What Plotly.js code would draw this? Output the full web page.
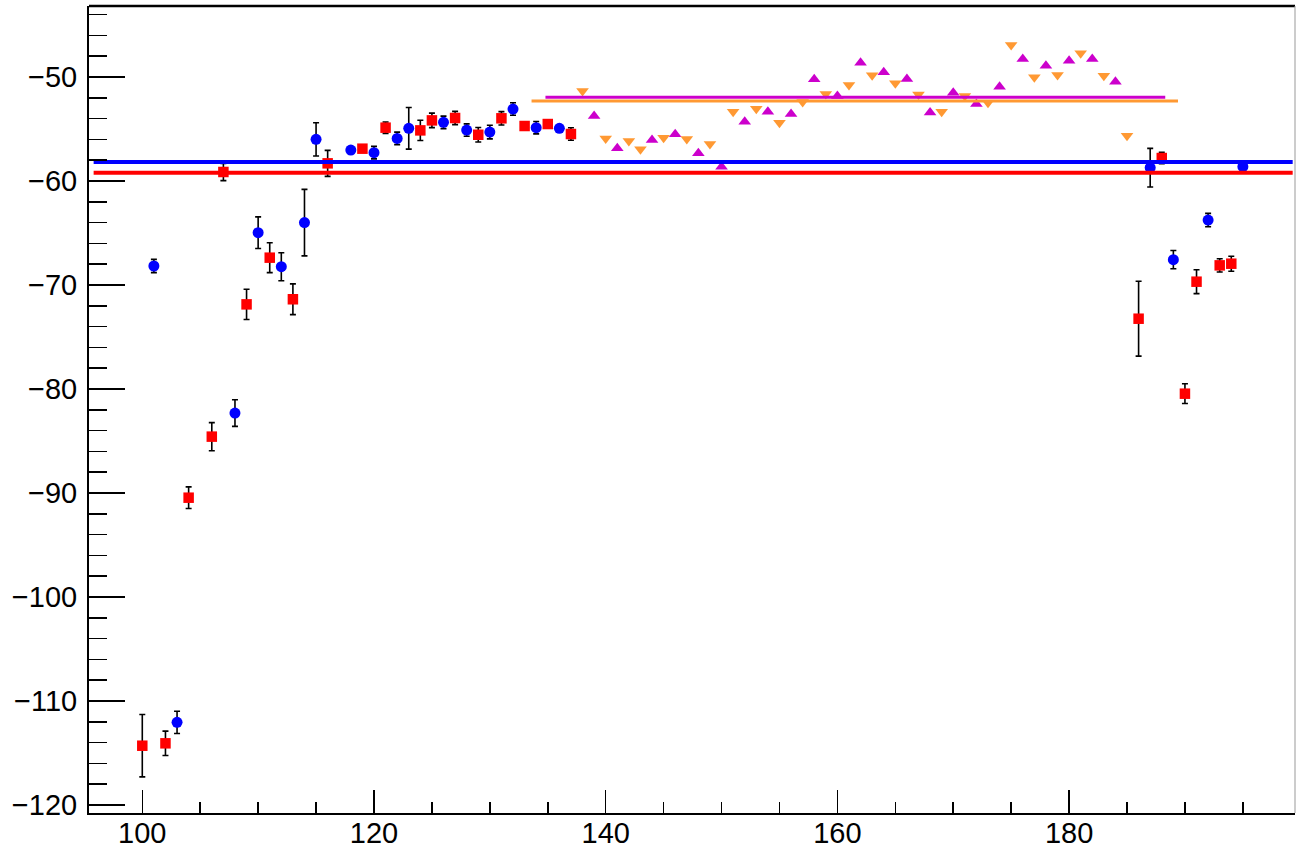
<!DOCTYPE html>
<html>
<head>
<meta charset="utf-8">
<script src="https://cdn.plot.ly/plotly-3.0.1.min.js"></script>
<style>
  html, body { margin: 0; padding: 0; background: #ffffff; }
  #chart { width: 1297px; height: 851px; }
</style>
</head>
<body>
<div id="chart"></div>
<script>
// ---- Series 1: blue circles with error bars ----
const blueX   = [101, 103, 108, 110, 112, 114, 115, 118, 120, 122, 123, 126, 128, 130, 132, 134, 136, 187, 189, 192, 195];
const blueY   = [-68.17, -112.05, -82.31, -64.97, -68.24, -64.0, -55.99, -57.02, -57.27, -55.9, -54.93, -54.36, -55.1, -55.29, -53.08, -54.87, -54.93, -58.72, -67.56, -63.75, -58.62];
const blueErr = [0.64, 1.07, 1.28, 1.52, 1.35, 3.2, 1.6, 0, 0.6, 0.6, 2.0, 0.6, 0.6, 0.66, 0.6, 0.6, 0, 1.86, 0.88, 0.64, 0];

// ---- Series 2: red squares with error bars ----
const redX   = [100, 102, 104, 106, 107, 109, 111, 113, 116, 119, 121, 124, 125, 127, 129, 131, 133, 135, 137, 186, 188, 190, 191, 193, 194];
const redY   = [-114.3, -114.07, -90.45, -84.58, -59.13, -71.86, -67.37, -71.37, -58.3, -56.89, -54.87, -55.13, -54.17, -53.94, -55.55, -53.97, -54.71, -54.52, -55.48, -73.24, -57.79, -80.45, -69.68, -68.11, -67.95];
const redErr = [3.0, 1.17, 1.04, 1.35, 0.83, 1.46, 1.44, 1.48, 1.25, 0, 0.55, 0.97, 0.7, 0.64, 0.7, 0.64, 0, 0, 0.6, 3.6, 0.55, 0.95, 1.15, 0.64, 0.72];

// ---- Series 3: magenta up-triangles ----
const magX = [139, 141, 144, 146, 148, 150, 152, 154, 156, 158, 160, 162, 164, 166, 168, 170, 172, 174, 176, 178, 180, 182, 184];
const magY = [-53.75, -56.86, -56.06, -55.5, -57.34, -58.62, -54.3, -53.33, -53.56, -50.22, -51.83, -48.63, -49.55, -50.19, -53.4, -51.5, -52.6, -50.93, -48.27, -48.91, -48.43, -48.27, -50.45];

// ---- Series 4: orange down-triangles ----
const oraX = [138, 140, 142, 143, 145, 147, 149, 151, 153, 155, 157, 159, 161, 163, 165, 167, 169, 171, 173, 175, 177, 179, 181, 183, 185];
const oraY = [-51.35, -55.9, -56.15, -56.95, -55.83, -55.96, -56.44, -53.33, -53.04, -54.39, -52.4, -51.63, -50.77, -49.84, -50.61, -51.67, -53.33, -51.83, -52.47, -46.92, -50.03, -49.81, -47.72, -49.88, -55.64];

// ---- Mean levels (horizontal lines) ----
const levelNames = ["blue", "red", "magenta", "orange"];
const levelValue = [-58.17, -59.2, -51.95, -52.3];
const levelStart = [95.8, 95.8, 134.8, 133.6];
const levelEnd   = [199.3, 199.3, 188.3, 189.4];

// ---- Axis ticks ----
const xTickVals = [100, 120, 140, 160, 180];
const yTickVals = [-120, -110, -100, -90, -80, -70, -60, -50];

const BLUE = "#0000ff", RED = "#ff0000", MAG = "#cc00cc", ORA = "#ff9933";
const levelColors = [BLUE, RED, MAG, ORA];
const levelWidths = [4, 4, 3, 3];

const errStyle = (arr) => ({ type: "data", array: arr, visible: true, color: "#000000", thickness: 1.6, width: 3 });

const traces = [
  { x: blueX, y: blueY, type: "scatter", mode: "markers", error_y: errStyle(blueErr),
    marker: { symbol: "circle", size: 11, color: BLUE }, hoverinfo: "skip" },
  { x: redX, y: redY, type: "scatter", mode: "markers", error_y: errStyle(redErr),
    marker: { symbol: "square", size: 10.5, color: RED }, hoverinfo: "skip" },
  { x: magX, y: magY, type: "scatter", mode: "markers",
    marker: { symbol: "triangle-up", size: 11, color: MAG }, hoverinfo: "skip" },
  { x: oraX, y: oraY, type: "scatter", mode: "markers",
    marker: { symbol: "triangle-down", size: 11, color: ORA }, hoverinfo: "skip" }
];

levelNames.forEach((n, i) => {
  traces.push({
    x: [levelStart[i], levelEnd[i]], y: [levelValue[i], levelValue[i]],
    type: "scatter", mode: "lines", name: n,
    line: { color: levelColors[i], width: levelWidths[i] }, hoverinfo: "skip"
  });
});

const layout = {
  width: 1297, height: 851,
  margin: { l: 89, r: 2, t: 6, b: 38, pad: 0 },
  paper_bgcolor: "#ffffff", plot_bgcolor: "#ffffff",
  showlegend: false,
  font: { family: "Liberation Sans, Arial, sans-serif", size: 29, color: "#000000" },
  xaxis: {
    range: [95.4, 199.5], autorange: false,
    tickmode: "array", tickvals: xTickVals, ticktext: xTickVals.map(String),
    ticks: "inside", ticklen: 23, tickwidth: 1.5, tickcolor: "#000000",
    minor: { dtick: 5, ticks: "inside", ticklen: 11, tickwidth: 1.5, tickcolor: "#000000", showgrid: false },
    showline: true, linecolor: "#000000", linewidth: 2,
    showgrid: false, zeroline: false, automargin: false,
    tickfont: { size: 29 }, ticklabelstandoff: -7
  },
  yaxis: {
    range: [-120.77, -43.17], autorange: false,
    tickmode: "array", tickvals: yTickVals,
    ticks: "inside", ticklen: 36, tickwidth: 1.5, tickcolor: "#000000",
    minor: { dtick: 2, ticks: "inside", ticklen: 18, tickwidth: 1.5, tickcolor: "#000000", showgrid: false },
    showline: true, linecolor: "#000000", linewidth: 2,
    showgrid: false, zeroline: false, automargin: false,
    tickfont: { size: 29 }, ticklabelstandoff: 4
  },
  shapes: [
    { type: "line", xref: "paper", yref: "paper", x0: 0, x1: 1, y0: 1, y1: 1, line: { color: "#000000", width: 2.5 } },
    { type: "line", xref: "paper", yref: "paper", x0: 1, x1: 1, y0: 0, y1: 1, line: { color: "#999999", width: 1 } }
  ]
};

Plotly.newPlot("chart", traces, layout, { displayModeBar: false, staticPlot: true });
</script>
</body>
</html>
